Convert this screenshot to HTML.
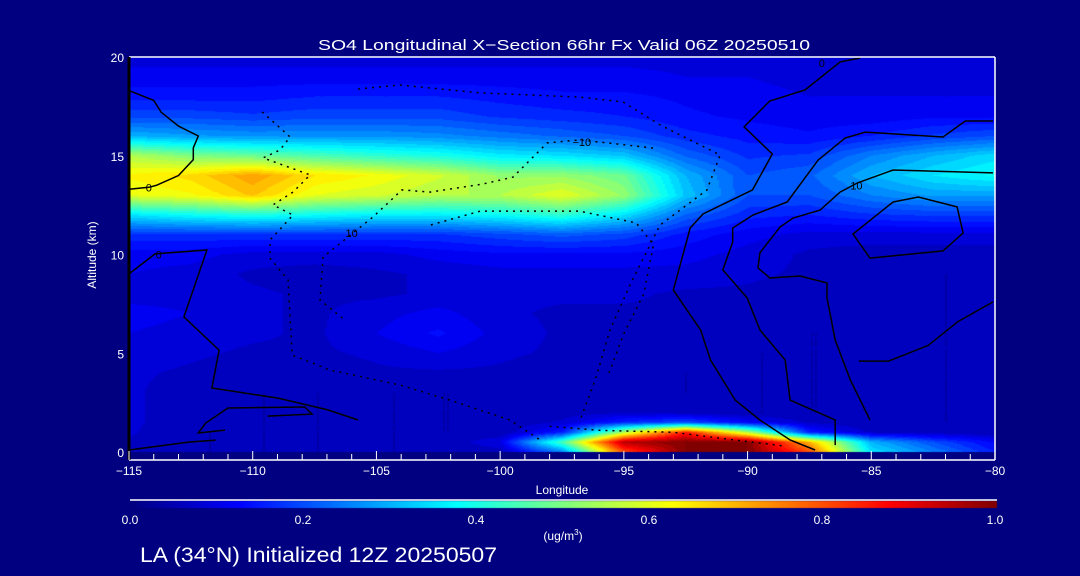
<!DOCTYPE html>
<html><head><meta charset="utf-8">
<style>
html,body{margin:0;padding:0;background:#000080;}
#wrap{position:relative;width:1080px;height:576px;background:#000080;overflow:hidden;font-family:"Liberation Sans",sans-serif;color:#fff;}
canvas{position:absolute;left:0;top:0;}
svg{position:absolute;left:0;top:0;}
</style></head>
<body>
<div id="wrap">
<canvas id="heat" width="1080" height="576"></canvas>
<svg id="svg" width="1080" height="576">
<text x="318" y="50" font-size="15" fill="#fff" textLength="492" lengthAdjust="spacingAndGlyphs">SO4 Longitudinal X−Section 66hr  Fx Valid 06Z 20250510</text>
<text x="562" y="494" font-size="12" fill="#fff" text-anchor="middle">Longitude</text>
<text transform="translate(96,255) rotate(-90)" font-size="12" fill="#fff" text-anchor="middle">Altitude (km)</text>
<text x="563" y="540" font-size="12" fill="#fff" text-anchor="middle">(ug/m<tspan dy="-5" font-size="8">3</tspan><tspan dy="5">)</tspan></text>
<text x="140" y="562" font-size="21" fill="#fff" textLength="357" lengthAdjust="spacingAndGlyphs">LA (34°N) Initialized 12Z 20250507</text>
<g id="contours"></g>
<g id="axes"></g>
</svg>
</div>
<script>
const lons=[-115,-112.5,-110,-107.5,-105,-102.5,-100,-97.5,-95,-92.5,-90,-87.5,-85,-82.5,-80];
const alts=[0,0.5,1,1.5,2,3,4,5,6,7,8,9,10,11,12,13,14,15,16,17,18,19,20];
const r0  =[.06,.05,.05,.05,.05,.05,.06,.25,.80,1,1,.80,.35,.25,.15];
const r05 =[.07,.05,.05,.05,.05,.05,.10,.45,.95,1,1,.70,.30,.20,.12];
const r1  =[.08,.05,.05,.05,.05,.05,.05,.15,.55,.85,.55,.15,.07,.06,.05];
const r15 =[.08,.06,.05,.05,.05,.05,.05,.08,.16,.20,.12,.07,.05,.05,.05];
const r2  =[.08,.06,.05,.05,.05,.05,.05,.06,.07,.06,.05,.05,.05,.05,.05];
const r3  =[.08,.06,.05,.05,.05,.05,.05,.05,.05,.05,.05,.05,.05,.05,.05];
const r4  =[.08,.07,.06,.06,.07,.07,.07,.06,.06,.05,.05,.05,.05,.05,.05];
const r5  =[.09,.08,.07,.07,.08,.10,.08,.07,.06,.06,.05,.05,.05,.05,.05];
const r6  =[.10,.09,.08,.07,.10,.13,.09,.07,.06,.06,.06,.05,.05,.05,.05];
const r7  =[.11,.10,.08,.07,.09,.11,.08,.07,.07,.07,.06,.06,.05,.05,.05];
const r8  =[.09,.09,.08,.07,.07,.08,.08,.08,.08,.07,.07,.06,.06,.05,.05];
const r9  =[.10,.09,.07,.06,.07,.08,.09,.09,.09,.09,.08,.07,.06,.05,.05];
const r10 =[.11,.11,.09,.09,.09,.11,.12,.12,.12,.11,.09,.07,.06,.06,.06];
const r11 =[.17,.17,.17,.17,.17,.17,.19,.21,.19,.14,.11,.09,.09,.09,.09];
const r12 =[.35,.38,.40,.38,.36,.36,.38,.42,.35,.22,.16,.15,.17,.18,.18];
const r13 =[.60,.62,.68,.60,.58,.55,.55,.60,.52,.32,.20,.20,.25,.28,.28];
const r14 =[.63,.66,.72,.65,.62,.58,.52,.52,.48,.30,.20,.22,.30,.35,.38];
const r15k=[.55,.50,.48,.45,.42,.40,.36,.35,.32,.22,.17,.18,.25,.30,.34];
const r16 =[.30,.28,.27,.27,.27,.26,.24,.22,.20,.16,.14,.13,.15,.18,.20];
const r17 =[.19,.19,.18,.19,.19,.19,.17,.16,.15,.13,.12,.11,.11,.12,.12];
const r18 =[.14,.14,.14,.15,.15,.15,.14,.13,.13,.12,.11,.10,.10,.10,.10];
const r19 =[.11,.11,.11,.11,.11,.11,.11,.11,.11,.10,.10,.09,.09,.09,.09];
const r20 =[.09,.09,.09,.09,.09,.09,.09,.09,.09,.09,.09,.09,.09,.09,.09];
const grid=[r0,r05,r1,r15,r2,r3,r4,r5,r6,r7,r8,r9,r10,r11,r12,r13,r14,r15k,r16,r17,r18,r19,r20];

const xTicks=[-115,-110,-105,-100,-95,-90,-85,-80];
const xTickLabels=["−115","−110","−105","−100","−95","−90","−85","−80"];
const yTicks=[0,5,10,15,20];
const cbTicks=[0,0.2,0.4,0.6,0.8,1.0];
const cbTickLabels=["0.0","0.2","0.4","0.6","0.8","1.0"];

const cSolidA=[[-115,18.3],[-114,17.8],[-113.7,17.2],[-113,16.5],[-112.2,16],[-112.4,15.4],[-112.4,14.8],[-113,14],[-113.9,13.5],[-114.2,13.4],[-115,13.3]];
const cSolidB=[[-85.45,19.95],[-86.26,19.75],[-87.68,18.33],[-89.1,17.77],[-90.14,16.46],[-89.0,15.09],[-89.8,13.27],[-91.8,12.05],[-92.32,11.34],[-93.0,8.2],[-91.9,6.18],[-91.5,4.66],[-90.5,2.63],[-89.5,1.62],[-88.28,0.61],[-87.27,0.1]];
const cSolidC=[[-80.08,16.76],[-81.2,16.76],[-82.1,15.95],[-85.25,16.2],[-86.06,15.9],[-87.15,14.78],[-88.4,12.66],[-89.78,12.0],[-90.6,11.34],[-90.6,10.63],[-91.0,9.22],[-90.02,7.8],[-89.5,6.18],[-88.48,4.66],[-88.28,2.63],[-86.46,1.62],[-86.46,0.35]];
const cSolidD=[[-80.08,14.13],[-84.12,14.28],[-85.57,13.62],[-86.26,13.16],[-87.07,12.25],[-88.16,11.85],[-88.69,11.39],[-89.5,10.08],[-89.58,9.32],[-89.1,8.81],[-87.88,8.91],[-86.79,8.56],[-86.79,7.8],[-86.46,5.67],[-85.85,3.65],[-85.05,1.62]];
const cSolidE=[[-84.12,12.66],[-85.74,11.04],[-85.05,9.82],[-82.1,10.18],[-81.29,11.09],[-81.53,12.41],[-83.1,12.91],[-84.12,12.66]];
const cSolidF=[[-114.96,9.06],[-113.95,10.03],[-111.85,10.23],[-112.78,6.84],[-111.36,5.16],[-111.65,3.24],[-108.98,2.73],[-106.96,2.13],[-105.74,1.62]];
const cSolidG=[[-111.12,1.11],[-112.2,0.96],[-111.9,1.47],[-111.0,2.23],[-107.9,2.28],[-107.6,1.92],[-109.4,1.82]];
const cSolidH=[[-115,0.1],[-112.6,0.5],[-111.5,0.6]];
const cSolidI=[[-80.08,7.6],[-81.5,6.6],[-82.7,5.4],[-84.3,4.6],[-85.5,4.6]];
const cDotA=[[-109.62,17.22],[-108.49,15.95],[-108.9,15.29],[-109.58,14.89],[-107.68,14.03],[-108.37,13.16],[-109.18,12.51],[-108.37,12.0],[-109.3,10.73],[-109.3,9.82],[-108.57,8.71],[-108.41,4.91],[-106.88,4.15],[-104.05,3.39],[-102.03,2.63],[-99.6,1.62],[-98.39,0.61]];
const cDotB=[[-105.74,18.38],[-104.05,18.58],[-100.81,18.18],[-96.77,17.97],[-95.03,17.72],[-93.54,16.56],[-91.11,15.04],[-91.64,13.27],[-93.54,11.49],[-94.75,8.46],[-95.56,6.18],[-96.16,3.65],[-96.77,1.62]];
const cDotC=[[-93.82,15.39],[-95.68,15.65],[-96.77,15.8],[-98.1,15.65],[-99.48,13.92],[-100.69,13.57],[-102.83,13.16],[-103.97,13.27],[-105.14,11.9],[-105.95,11.09],[-107.16,9.87],[-107.28,7.7],[-106.3,6.7]];
const cDotD=[[-102.8,11.5],[-100.8,12.2],[-96.8,12.2],[-94.5,11.6],[-93.8,10.5],[-94.2,8.0],[-95.0,6.0],[-95.6,4.0]];
const cDotE=[[-98.0,1.3],[-96,1.1],[-93,1.0],[-90.5,0.6],[-88.5,0.3]];
const solidLines=[cSolidA,cSolidB,cSolidC,cSolidD,cSolidE,cSolidF,cSolidG,cSolidH,cSolidI];
const dottedLines=[cDotA,cDotB,cDotC,cDotD,cDotE];

const X0=129,X1=995,Y0=452,Y1=57;
function xs(l){return X0+(l-(-115))/35*(X1-X0);}
function ys(a){return Y0-(a/20)*(Y0-Y1);}
function jet(v){
  v=Math.max(0,Math.min(1,v));
  const r=Math.max(0,Math.min(1,1.5-Math.abs(4*v-3)));
  const g=Math.max(0,Math.min(1,1.5-Math.abs(4*v-2)));
  const b=Math.max(0,Math.min(1,1.5-Math.abs(4*v-1)));
  return 'rgb('+Math.round(r*255)+','+Math.round(g*255)+','+Math.round(b*255)+')';
}
function sample(lon,alt){
  let i=0;while(i<lons.length-2&&lon>lons[i+1])i++;
  let j=0;while(j<alts.length-2&&alt>alts[j+1])j++;
  const tx=Math.max(0,Math.min(1,(lon-lons[i])/(lons[i+1]-lons[i])));
  const ty=Math.max(0,Math.min(1,(alt-alts[j])/(alts[j+1]-alts[j])));
  const a=grid[j][i],b=grid[j][i+1],c=grid[j+1][i],d=grid[j+1][i+1];
  return (a*(1-tx)+b*tx)*(1-ty)+(c*(1-tx)+d*tx)*ty;
}
const ctx=document.getElementById('heat').getContext('2d');
const NL=40;
for(let px=X0;px<X1;px+=2){
  for(let py=Y1;py<Y0;py+=1){
    const lon=-115+(px+1-X0)/(X1-X0)*35;
    const alt=(Y0-(py+0.5))/(Y0-Y1)*20;
    let v=sample(lon,alt);
    v=Math.min(1,(Math.floor(v*NL)+0.5)/NL);
    ctx.fillStyle=jet(v);
    ctx.fillRect(px,py,2,1);
  }
}
for(let px=130;px<997;px++){
  ctx.fillStyle=jet((px-130)/(997-130));
  ctx.fillRect(px,501,1,7);
}
const NS='http://www.w3.org/2000/svg';
const cg=document.getElementById('contours');
function pathOf(pts){return pts.map((p,k)=>(k?'L':'M')+xs(p[0]).toFixed(1)+' '+ys(p[1]).toFixed(1)).join(' ');}
solidLines.forEach(function(l){
  const p=document.createElementNS(NS,'path');
  p.setAttribute('d',pathOf(l));p.setAttribute('fill','none');p.setAttribute('stroke','#000');p.setAttribute('stroke-width','1.5');
  
  
  cg.appendChild(p);
});
dottedLines.forEach(function(l){
  const p=document.createElementNS(NS,'path');
  p.setAttribute('d',pathOf(l));p.setAttribute('fill','none');p.setAttribute('stroke','#000');p.setAttribute('stroke-width','1.5');p.setAttribute('stroke-dasharray','2 5');
  
  
  cg.appendChild(p);
});
const cLabels=[[-114.2,13.4,"0"],[-87.0,19.7,"0"],[-96.7,15.7,"−10"],[-85.6,13.5,"10"],[-106,11.1,"10"],[-113.8,10.0,"0"]];
cLabels.forEach(function(c){
  const t=document.createElementNS(NS,'text');
  t.setAttribute('x',xs(c[0]));t.setAttribute('y',ys(c[1])+4);t.setAttribute('font-size','11');t.setAttribute('fill','#000');t.setAttribute('text-anchor','middle');
  t.textContent=c[2];
  
  
  cg.appendChild(t);
});
const ag=document.getElementById('axes');
function line(x1,y1,x2,y2,col,w,name){
  const l=document.createElementNS(NS,'line');
  l.setAttribute('x1',x1);l.setAttribute('y1',y1);l.setAttribute('x2',x2);l.setAttribute('y2',y2);l.setAttribute('stroke',col);l.setAttribute('stroke-width',w);
  
  
  ag.appendChild(l);
}
function txt(x,y,s,anchor,size,name){
  const t=document.createElementNS(NS,'text');
  t.setAttribute('x',x);t.setAttribute('y',y);t.setAttribute('font-size',size);t.setAttribute('fill','#fff');t.setAttribute('text-anchor',anchor);
  t.textContent=s;
  
  
  ag.appendChild(t);
}
line(X0,57,X1,57,'#fff',1.5,'plot-top-border');
line(X1,57,X1,460,'#fff',1.5,'plot-right-border');
line(X0,460,X1,460,'#fff',1.5,'x-axis-line');
line(X0,57,X0,460,'#000',3,'y-axis-line');
for(let l=-115;l<=-80;l++){
  const maj=(l%5===0);
  line(xs(l),460,xs(l),maj?451:454,'#fff',1,'x-tick');
}
xTicks.forEach(function(l,k){txt(xs(l),475,xTickLabels[k],'middle',12,'x-tick-label');});
yTicks.forEach(function(a){txt(124,Math.min(ys(a)+5,460),String(a),'end',12,'y-tick-label');});
line(130,500,997,500,'#fff',1.5,'colorbar-top-line');
cbTicks.forEach(function(v,k){txt(130+v*(995-130),524,cbTickLabels[k],'middle',12,'colorbar-tick-label');});
</script>
</body></html>
